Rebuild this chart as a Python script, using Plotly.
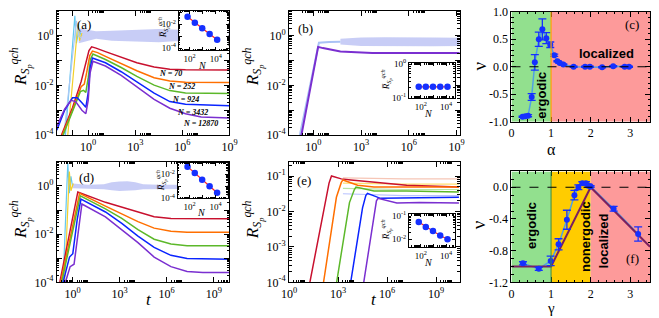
import plotly.graph_objects as go

W, H = 659, 318
SERIF = "Liberation Serif"
SANS = "Liberation Sans"

# ---------------- data (log10 exponents) ----------------
N_VALUES = [70, 252, 924, 3432, 12870]
N_LABELS = ["N = 70", "N = 252", "N = 924", "N = 3432", "N = 12870"]
COLORS = ["#c8102e", "#ff6f00", "#5cb82a", "#0a24ff", "#7a2fd0"]

# panel (a)
A_T_70 = [-1.7, -1.0, -0.45, -0.15, 0.05, 0.22, 0.5, 1.1, 2.1, 3.1, 4.2, 5.2, 6.2, 9.0]
A_R_70 = [-4.0, -2.9, -1.85, -1.1, -0.6, -0.45, -0.5, -0.64, -0.87, -1.09, -1.26, -1.35, -1.37, -1.38]
A_T_252 = [-1.65, -1.0, -0.45, -0.25, -0.1, 0.1, 0.27, 0.6, 1.1, 2.1, 3.1, 4.2, 5.2, 6.2, 9.0]
A_R_252 = [-4.0, -3.0, -2.05, -1.95, -1.5, -0.8, -0.62, -0.68, -0.83, -1.13, -1.41, -1.69, -1.82, -1.87, -1.88]
A_T_924 = [-1.6, -1.0, -0.5, -0.3, -0.15, 0.0, 0.15, 0.3, 0.6, 1.1, 2.1, 3.1, 4.2, 5.2, 6.2, 9.0]
A_R_924 = [-4.0, -3.05, -2.25, -2.2, -2.28, -1.7, -0.95, -0.74, -0.82, -0.96, -1.28, -1.64, -1.99, -2.21, -2.31, -2.33]
A_T_3432 = [-2.0, -1.5, -1.0, -0.7, -0.4, -0.15, 0.0, 0.12, 0.27, 0.6, 1.1, 2.1, 3.1, 4.2, 5.2, 6.2, 9.0]
A_R_3432 = [-3.8, -3.0, -2.5, -2.5, -2.7, -2.88, -2.3, -1.3, -0.9, -0.98, -1.09, -1.45, -1.86, -2.31, -2.65, -2.76, -2.82]
A_T_12870 = [-2.0, -1.5, -1.1, -0.8, -0.4, -0.15, 0.0, 0.12, 0.3, 0.6, 1.1, 2.1, 3.1, 4.2, 5.2, 6.2, 7.2, 9.0]
A_R_12870 = [-3.65, -2.95, -2.6, -2.65, -3.0, -3.14, -2.6, -1.5, -1.03, -1.1, -1.22, -1.6, -2.05, -2.56, -2.92, -3.14, -3.27, -3.31]
A_SPIKE_T = [[-1.45, -0.85, -0.75, -0.6, -0.4], [-1.3, -0.65, -0.55, -0.4], [-1.55, -0.75, -0.6, -0.45]]
A_SPIKE_R = [[-4.0, 0.8, -0.3, 0.2, 0.0], [-4.0, 0.5, -0.2, 0.1], [-4.0, 0.6, 0.0, -0.1]]
A_BAND_T = [-0.6, 0.5, 1.5, 2.5, 3.5, 4.5, 5.5, 6.5, 7.5, 9.0]
A_BAND_HI = [0.3, 0.18, 0.2, 0.22, 0.25, 0.27, 0.25, 0.22, 0.2, 0.2]
A_BAND_LO = [-0.3, -0.12, -0.2, -0.22, -0.24, -0.26, -0.22, -0.2, -0.2, -0.2]
A_INSET_R = [-1.38, -1.88, -2.33, -2.82, -3.30]

# panel (b)
B_T = [-0.75, 0.3, 0.6, 1.7, 3.7, 9.2]
B_R = [-4.0, -0.45, -0.5, -0.64, -0.7, -0.7]
B_LIGHT_T = [-0.85, 0.35, 1.0, 1.7]
B_LIGHT_R = [-4.0, -0.28, -0.25, -0.24]
B_BAND_T = [1.7, 3.0, 4.5, 6.0, 7.5, 9.2]
B_BAND_HI = [-0.12, -0.07, -0.06, -0.08, -0.07, -0.08]
B_BAND_LO = [-0.36, -0.42, -0.43, -0.42, -0.43, -0.42]
B_INSET_R = [-0.68, -0.68, -0.68, -0.68, -0.68]

# panel (d)
D_T_70 = [-0.81, 0.34, 2.1, 3.14, 4.17, 5.2, 6.27, 7.3, 10.0]
D_R_70 = [-4.0, -0.25, -0.68, -0.88, -1.08, -1.28, -1.35, -1.36, -1.36]
D_T_252 = [-0.75, 0.45, 2.1, 3.14, 4.17, 5.2, 6.27, 7.3, 10.0]
D_R_252 = [-4.0, -0.31, -0.84, -1.15, -1.48, -1.75, -1.88, -1.92, -1.92]
D_T_924 = [-0.69, 0.5, 2.1, 3.14, 4.17, 5.2, 6.27, 7.3, 10.0]
D_R_924 = [-4.0, -0.41, -0.95, -1.35, -1.81, -2.21, -2.41, -2.48, -2.48]
D_T_3432 = [-0.6, -0.19, 0.02, 0.3, 0.54, 2.1, 3.14, 4.17, 5.2, 6.27, 7.3, 10.0]
D_R_3432 = [-4.0, -2.95, -2.81, -1.4, -0.55, -1.08, -1.55, -2.08, -2.55, -2.88, -3.01, -3.04]
D_T_12870 = [-0.45, -0.15, 0.1, 0.25, 0.6, 2.1, 3.14, 4.17, 5.2, 6.27, 7.3, 8.3, 10.0]
D_R_12870 = [-4.0, -3.35, -3.25, -2.5, -0.75, -1.28, -1.81, -2.35, -2.95, -3.35, -3.55, -3.59, -3.59]
D_SPIKE_T = [[-0.6, -0.3, -0.2, -0.1, 0.0], [-0.5, -0.2, -0.1, 0.05]]
D_SPIKE_R = [[-4.0, 0.95, -0.3, 0.4, 0.0], [-4.0, 0.6, -0.2, 0.1]]
D_BAND_T = [0.0, 1.0, 2.0, 2.5, 3.0, 3.5, 4.0, 4.5, 5.5, 6.5, 8.0, 10.0]
D_BAND_HI = [0.1, 0.05, 0.07, 0.15, 0.19, 0.2, 0.15, 0.07, 0.05, 0.05, 0.05, 0.05]
D_BAND_LO = [-0.1, -0.12, -0.14, -0.18, -0.21, -0.2, -0.18, -0.14, -0.12, -0.12, -0.12, -0.12]
D_INSET_R = [-1.36, -1.90, -2.45, -3.00, -3.55]

# panel (e)
E_T_70 = [1.26, 2.0, 2.45, 2.6, 3.2, 3.8, 5.2, 7.2, 10.4]
E_R_70 = [-4.04, -2.3, -1.2, -1.0, -1.08, -1.11, -1.17, -1.26, -1.31]
E_T_252 = [2.1, 2.9, 3.2, 3.3, 4.2, 5.2, 7.2, 10.4]
E_R_252 = [-4.04, -1.6, -1.18, -1.11, -1.26, -1.31, -1.31, -1.31]
E_T_924 = [2.9, 3.7, 4.0, 4.1, 5.2, 7.2, 10.4]
E_R_924 = [-4.04, -1.75, -1.38, -1.31, -1.42, -1.42, -1.45]
E_T_3432 = [3.76, 4.5, 4.7, 4.8, 5.6, 7.2, 10.4]
E_R_3432 = [-4.04, -1.9, -1.55, -1.49, -1.63, -1.62, -1.6]
E_T_12870 = [4.56, 5.2, 5.35, 5.45, 6.6, 8.0, 10.4]
E_R_12870 = [-4.04, -2.05, -1.7, -1.63, -1.76, -1.75, -1.76]
E_LIGHT_T = [3.3, 5.0, 7.0, 10.4]
E_LIGHT_R = [[-1.05, -1.07, -1.08, -1.08], [-1.2, -1.22, -1.23, -1.23],
             [-1.35, -1.37, -1.38, -1.38], [-1.5, -1.53, -1.55, -1.55]]
E_LIGHT_COLORS = ["#f6c6b6", "#ffe070", "#b9e3a3", "#b7c2ff"]
E_INSET_R = [-1.28, -1.48, -1.65, -1.84, -2.00]

# panel (c)
C_ALPHA = [0.28, 0.35, 0.42, 0.51, 0.59, 0.69, 0.78, 0.88, 0.98, 1.08, 1.16, 1.22, 1.31,
           1.57, 1.86, 1.98, 2.29, 2.57, 2.86, 2.97]
C_NU = [-0.91, -0.90, -0.89, -0.55, 0.08, 0.50, 0.68, 0.52, 0.40, 0.21, 0.10, 0.07, 0.04,
        0.0, 0.0, 0.0, -0.01, 0.01, 0.0, 0.0]
C_ERR = [0.01, 0.01, 0.02, 0.06, 0.14, 0.13, 0.19, 0.10, 0.05, 0.02, 0.01, 0.01, 0.01,
         0.01, 0.01, 0.01, 0.01, 0.01, 0.01, 0.01]

# panel (f)
F_GAMMA = [0.29, 0.69, 0.99, 1.19, 1.40, 1.59, 1.69, 1.79, 1.88, 1.94, 2.0, 2.58, 3.2]
F_NU = [-0.96, -1.03, -0.93, -0.72, -0.41, -0.10, 0.0, 0.05, 0.05, 0.02, 0.01, -0.27, -0.59]
F_ERR = [0.02, 0.02, 0.06, 0.07, 0.12, 0.06, 0.03, 0.02, 0.02, 0.02, 0.01, 0.03, 0.09]
F_THEORY_G = [0.0, 1.0, 2.0, 3.5]
F_THEORY_NU = [-1.0, -1.0, 0.0, -0.75]

LIGHT_BAND = "rgba(186,192,244,0.8)"
SPIKE_COLORS = ["#62c8f0", "#f2cf2a", "#a9c8f5"]

# ---------------- helpers ----------------
def dx(x0, x1):
    return [x0 / W, x1 / W]


def dy(y0, y1):
    return [1 - y1 / H, 1 - y0 / H]


def p10(v):
    return [10.0 ** e for e in v]


def log_axis(domain, rng, major, labeled, anchor, fs=12, tl=5, minor_exps=None):
    if minor_exps is None:
        minor_exps = major
    return dict(type="log", domain=domain, range=rng, anchor=anchor, tickmode="array",
                tickvals=p10(major),
                ticktext=[f"10<sup>{e}</sup>" if e in labeled else "" for e in major],
                ticks="inside", ticklen=tl, tickwidth=1, tickcolor="black",
                showline=True, linecolor="black", linewidth=1, mirror="allticks",
                showgrid=False, zeroline=False,
                tickfont=dict(family=SERIF, size=fs, color="black"),
                minor=dict(tickmode="array",
                           tickvals=[m * 10.0 ** e for e in minor_exps for m in range(2, 10)],
                           ticks="inside", ticklen=tl * 0.5, tickcolor="black", showgrid=False))


def lin_axis(domain, rng, tickvals, ticktext, anchor):
    return dict(domain=domain, range=rng, anchor=anchor, tickmode="array", tickvals=tickvals,
                ticktext=ticktext, ticks="inside", ticklen=5, tickcolor="black",
                showline=True, linecolor="black", linewidth=1, mirror="allticks",
                showgrid=False, zeroline=False,
                tickfont=dict(family=SERIF, size=12, color="black"))


fig = go.Figure()


def line(xs, ys, ax, color, width=1.5):
    fig.add_trace(go.Scatter(x=p10(xs), y=p10(ys), mode="lines", xaxis="x" + ax, yaxis="y" + ax,
                             line=dict(color=color, width=width), showlegend=False, hoverinfo="skip"))


def band(ts, hi, lo, ax, color):
    fig.add_trace(go.Scatter(x=p10(ts + ts[::-1]), y=p10(hi + lo[::-1]), mode="lines", fill="toself",
                             fillcolor=color, line=dict(width=0), xaxis="x" + ax, yaxis="y" + ax,
                             showlegend=False, hoverinfo="skip"))


ax_a, ax_b, ax_c, ax_d, ax_e, ax_f = "", "2", "3", "4", "5", "6"
ax_ia, ax_ib, ax_id, ax_ie = "7", "8", "9", "10"

# panel (a)
band(A_BAND_T, A_BAND_HI, A_BAND_LO, ax_a, LIGHT_BAND)
for ts, rs, c in zip(A_SPIKE_T, A_SPIKE_R, SPIKE_COLORS):
    line(ts, rs, ax_a, c, 1.2)
for ts, rs, c in zip([A_T_70, A_T_252, A_T_924, A_T_3432, A_T_12870],
                     [A_R_70, A_R_252, A_R_924, A_R_3432, A_R_12870], COLORS):
    line(ts, rs, ax_a, c)

# panel (b)
band(B_BAND_T, B_BAND_HI, B_BAND_LO, ax_b, LIGHT_BAND)
line(B_LIGHT_T, B_LIGHT_R, ax_b, "#a9c2f5", 2)
line(B_T, B_R, ax_b, COLORS[4], 2)

# panel (d)
band(D_BAND_T, D_BAND_HI, D_BAND_LO, ax_d, LIGHT_BAND)
for ts, rs, c in zip(D_SPIKE_T, D_SPIKE_R, SPIKE_COLORS):
    line(ts, rs, ax_d, c, 1.2)
for ts, rs, c in zip([D_T_70, D_T_252, D_T_924, D_T_3432, D_T_12870],
                     [D_R_70, D_R_252, D_R_924, D_R_3432, D_R_12870], COLORS):
    line(ts, rs, ax_d, c)

# panel (e)
for rs, c in zip(E_LIGHT_R, E_LIGHT_COLORS):
    line(E_LIGHT_T, rs, ax_e, c, 1.2)
for ts, rs, c in zip([E_T_70, E_T_252, E_T_924, E_T_3432, E_T_12870],
                     [E_R_70, E_R_252, E_R_924, E_R_3432, E_R_12870], COLORS):
    line(ts, rs, ax_e, c)

# panels (c) and (f)
for xs, ys, es, ax in [(C_ALPHA, C_NU, C_ERR, ax_c), (F_GAMMA, F_NU, F_ERR, ax_f)]:
    fig.add_trace(go.Scatter(x=xs, y=ys, mode="lines", line=dict(color="#4f9fe6", width=1.5),
                             xaxis="x" + ax, yaxis="y" + ax, showlegend=False, hoverinfo="skip"))
fig.add_trace(go.Scatter(x=F_THEORY_G, y=F_THEORY_NU, mode="lines", line=dict(color="#7b2060", width=2),
                         xaxis="x" + ax_f, yaxis="y" + ax_f, showlegend=False, hoverinfo="skip"))
for xs, ys, es, ax in [(C_ALPHA, C_NU, C_ERR, ax_c), (F_GAMMA, F_NU, F_ERR, ax_f)]:
    fig.add_trace(go.Scatter(x=xs, y=ys, mode="markers",
                             marker=dict(color="#1530ff", size=6),
                             error_y=dict(type="data", array=es, color="#1530ff", thickness=1.3, width=4),
                             xaxis="x" + ax, yaxis="y" + ax, showlegend=False, hoverinfo="skip"))

# insets
inset_specs = [
    (ax_ia, [1.17, 4.98], [-4.16, -0.88], A_INSET_R),
    (ax_ib, [1.08, 4.69], [-1.0, 0.0], B_INSET_R),
    (ax_id, [1.10, 4.91], [-4.0, -1.04], D_INSET_R),
    (ax_ie, [1.08, 4.69], [-2.32, -0.96], E_INSET_R),
]
for ax, xr, yr, rs in inset_specs:
    fig.add_trace(go.Scatter(x=p10([xr[0], xr[1], xr[1], xr[0], xr[0]]),
                             y=p10([yr[0], yr[0], yr[1], yr[1], yr[0]]), mode="lines", fill="toself",
                             fillcolor="white", line=dict(width=0), xaxis="x" + ax, yaxis="y" + ax,
                             showlegend=False, hoverinfo="skip"))
    fig.add_trace(go.Scatter(x=N_VALUES, y=p10(rs), mode="lines", line=dict(color="#ff2020", width=1.2),
                             xaxis="x" + ax, yaxis="y" + ax, showlegend=False, hoverinfo="skip"))
    fig.add_trace(go.Scatter(x=N_VALUES, y=p10(rs), mode="markers", marker=dict(color="#1530ff", size=6.5),
                             xaxis="x" + ax, yaxis="y" + ax, showlegend=False, hoverinfo="skip"))

# ---------------- layout ----------------
lay = dict(width=W, height=H, margin=dict(l=0, r=0, t=0, b=0), paper_bgcolor="white",
           plot_bgcolor="white", showlegend=False)

T_MAJOR = [0, 3, 6, 9]
lay["xaxis"] = log_axis(dx(50, 227), [-2, 9], [-2, -1] + T_MAJOR, T_MAJOR, "y", minor_exps=T_MAJOR)
lay["yaxis"] = log_axis(dy(4, 134), [-4, 1], [-4, -3, -2, -1, 0, 1], [-4, -2, 0], "x",
                        minor_exps=[-4, -3, -2, -1, 0])
lay["xaxis2"] = log_axis(dx(288, 463), [-1.53, 9.2], T_MAJOR, T_MAJOR, "y2", minor_exps=[-1] + T_MAJOR)
lay["yaxis2"] = log_axis(dy(4, 134), [-4, 1], [-4, -3, -2, -1, 0, 1], [-4, -2, 0], "x2",
                         minor_exps=[-4, -3, -2, -1, 0])
lay["xaxis4"] = log_axis(dx(50, 227), [-1, 10], T_MAJOR, T_MAJOR, "y4", minor_exps=[-1] + T_MAJOR)
lay["yaxis4"] = log_axis(dy(162, 288), [-4, 1], [-4, -3, -2, -1, 0, 1], [-4, -2, 0], "x4",
                         minor_exps=[-4, -3, -2, -1, 0])
lay["xaxis5"] = log_axis(dx(288, 463), [0, 10.45], T_MAJOR, T_MAJOR, "y5", minor_exps=T_MAJOR)
lay["yaxis5"] = log_axis(dy(162, 288), [-4, -0.6], [-4, -3, -2, -1], [-4, -3, -2, -1], "x5",
                         minor_exps=[-4, -3, -2, -1])
lay["xaxis3"] = lin_axis(dx(516, 658), [0, 3.5], [0, 1, 2, 3], ["0", "1", "2", "3"], "y3")
lay["yaxis3"] = lin_axis(dy(5, 120), [-1, 1], [-1, -0.5, 0, 0.5, 1],
                         ["-1.0", "-0.5", "0.0", "0.5", "1.0"], "x3")
lay["xaxis6"] = lin_axis(dx(516, 658), [0, 3.5], [0, 1, 2, 3], ["0", "1", "2", "3"], "y6")
lay["yaxis6"] = lin_axis(dy(172, 288), [-1.2, 0.2], [-1.2, -0.8, -0.4, 0.0],
                         ["-1.2", "-0.8", "-0.4", "0.0"], "x6")
for k in ["xaxis3", "xaxis6", "yaxis3", "yaxis6"]:
    lay[k]["minor"] = dict(ticks="inside", ticklen=2.5, tickcolor="black", showgrid=False)

inset_dom = {
    "7": (dx(175, 226), dy(4, 45), [-4, -3, -2, -1], [-4, -2]),
    "8": (dx(411, 458), dy(59, 95), [-1, 0], [-1, 0]),
    "9": (dx(174, 225), dy(163, 200), [-4, -3, -2, -1], [-4, -2]),
    "10": (dx(411, 458), dy(217, 251), [-2, -1], [-2, -1]),
}
for ax, xr, yr, rs in inset_specs:
    xd, yd, ymaj, ylab = inset_dom[ax]
    lay["xaxis" + ax] = log_axis(xd, xr, [1, 2, 3, 4], [2, 4], "y" + ax, fs=9, tl=3, minor_exps=[1, 2, 3, 4])
    lay["yaxis" + ax] = log_axis(yd, yr, ymaj, ylab, "x" + ax, fs=9, tl=3, minor_exps=ymaj)

# shapes for (c) and (f)
shapes = [
    dict(type="rect", xref="x3", yref="y3", x0=0, x1=1, y0=-1, y1=1, fillcolor="#92e08e", line_width=0, layer="below"),
    dict(type="rect", xref="x3", yref="y3", x0=1, x1=3.5, y0=-1, y1=1, fillcolor="#fd9a9a", line_width=0, layer="below"),
    dict(type="line", xref="x3", yref="y3", x0=1, x1=1, y0=-1, y1=1, line=dict(color="#ffa000", width=1.2)),
    dict(type="line", xref="x3", yref="y3", x0=0, x1=3.5, y0=0, y1=0, line=dict(color="black", width=1.2, dash="dash")),
    dict(type="rect", xref="x6", yref="y6", x0=0, x1=1, y0=-1.2, y1=0.2, fillcolor="#92e08e", line_width=0, layer="below"),
    dict(type="rect", xref="x6", yref="y6", x0=1, x1=2, y0=-1.2, y1=0.2, fillcolor="#ffcc00", line_width=0, layer="below"),
    dict(type="rect", xref="x6", yref="y6", x0=2, x1=3.5, y0=-1.2, y1=0.2, fillcolor="#fd9a9a", line_width=0, layer="below"),
    dict(type="line", xref="x6", yref="y6", x0=1, x1=1, y0=-1.2, y1=0.2, line=dict(color="#3d8a3d", width=1)),
    dict(type="line", xref="x6", yref="y6", x0=0, x1=3.5, y0=0, y1=0, line=dict(color="black", width=1.2, dash="dash")),
]
lay["shapes"] = shapes

ann = []


def text(x, y, s, size=12, family=SERIF, angle=0, color="black"):
    ann.append(dict(x=x / W, y=1 - y / H, xref="paper", yref="paper", text=s, showarrow=False,
                    font=dict(family=family, size=size, color=color), textangle=angle,
                    xanchor="center", yanchor="middle"))


RT = "<i>R</i><sub><i>S<sub>p</sub></i></sub><sup><i>qch</i></sup>"
RB = "<i>R\u0305</i><sub><i>S<sub>p</sub></i></sub><sup><i>qch</i></sup>"
text(13, 62, RT, 17, angle=-90)
text(13, 222, RT, 17, angle=-90)
text(251, 62, RT, 17, angle=-90)
text(251, 222, RT, 17, angle=-90)
text(145, 306, "<i>t</i>", 17)
text(375, 306, "<i>t</i>", 17)
text(557, 149, "α", 16)
text(557, 315, "γ", 15)
text(483, 62, "ν", 19, angle=-90)
text(483, 228, "ν", 19, angle=-90)
text(159, 22, RB, 9, angle=-90)
text(157, 182, RB, 9, angle=-90)
text(387, 76, RB, 9, angle=-90)
text(387, 233, RB, 9, angle=-90)
text(199, 61, "<i>N</i>", 10)
text(198, 215, "<i>N</i>", 10)
text(431, 111, "<i>N</i>", 10)
text(431, 267, "<i>N</i>", 10)
text(78, 18, "(a)", 13)
text(305, 22, "(b)", 13)
text(640, 18, "(c)", 13)
text(80, 178, "(d)", 13)
text(303, 181, "(e)", 13)
text(640, 263, "(f)", 13)
text(547, 92, "<b>ergodic</b>", 13, SANS, -90)
text(613, 49, "<b>localized</b>", 13, SANS)
text(537, 228, "<b>ergodic</b>", 13, SANS, -90)
text(592, 240, "<b>nonergodic</b>", 13, SANS, -90)
text(610, 245, "<b>localized</b>", 13, SANS, -90)
for lab, (x, y) in zip(N_LABELS, [(167, 70), (178, 83), (182, 97), (189, 110), (197, 122)]):
    text(x, y, f"<b><i>{lab}</i></b>", 8)
lay["annotations"] = ann

fig.update_layout(**lay)
fig.write_html("out.html", config={"displayModeBar": False, "staticPlot": True},
               post_script="document.body.style.margin='0px';document.body.style.padding='0px';")
